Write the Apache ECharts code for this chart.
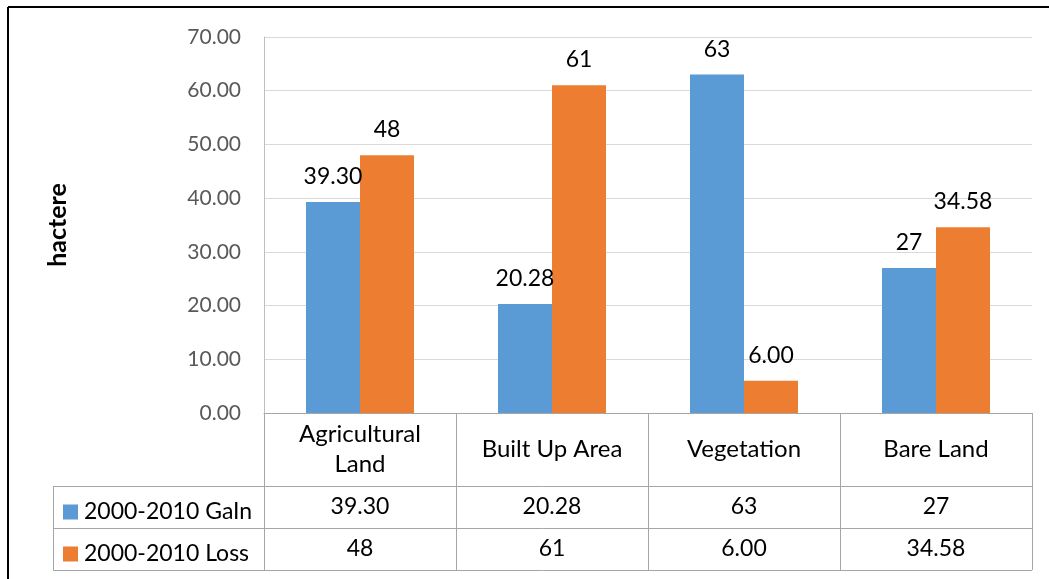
<!DOCTYPE html>
<html>
<head>
<meta charset="utf-8">
<script src="https://cdn.jsdelivr.net/npm/echarts@6/dist/echarts.min.js"></script>
<style>
  html, body { margin: 0; padding: 0; background: #fff; }
  #chart { width: 1049px; height: 579px; }
</style>
</head>
<body>
<div id="chart"></div>
<script>
// Land cover change, 2000-2010 (hectares)
const categories = ['Agricultural\nLand', 'Built Up Area', 'Vegetation', 'Bare Land'];
const seriesNames = ['2000-2010 GaIn', '2000-2010 Loss'];
const gainValues = [39.30, 20.28, 63, 27];
const lossValues = [48, 61, 6.00, 34.58];
// decimals shown for each value in labels and table
const gainDecimals = [2, 2, 0, 0];
const lossDecimals = [0, 0, 2, 2];
const yTicks = [0, 10, 20, 30, 40, 50, 60, 70];

const FONT = 'Lato, "Open Sans", sans-serif';
const W = 1049, H = 579;
const GRID = { left: 264, right: 17, top: 37, bottom: 166 };
const AXIS_Y = H - GRID.bottom;          // y of the category axis
const ROW1 = 73, ROW2 = 42, ROW3 = 42;    // table row heights
const TABLE_LEFT = 53;
const LINE = '#a6a6a6';

const fmt = (v, d) => v.toFixed(d);

const chart = echarts.init(document.getElementById('chart'), null, { renderer: 'canvas' });

const plotRight = W - GRID.right;
const yGain = AXIS_Y + ROW1;
const yLoss = yGain + ROW2;
const yEnd = yLoss + ROW3;

function hLine(y, x1, x2, color, width) {
  return { type: 'line', silent: true, shape: { x1, y1: y, x2, y2: y },
           style: { stroke: color, lineWidth: width } };
}
function vLine(x, y1, y2, color, width) {
  return { type: 'line', silent: true, shape: { x1: x, y1, x2: x, y2 },
           style: { stroke: color, lineWidth: width } };
}

const valueAxisRow = (offset, values, decimals) => ({
  type: 'category',
  data: categories,
  position: 'bottom',
  offset: offset,
  axisLine: { show: false },
  axisTick: { show: false },
  axisLabel: {
    interval: 0,
    margin: 21,
    verticalAlign: 'middle',
    fontFamily: FONT, fontSize: 23, color: '#000',
    formatter: (v, i) => fmt(values[i], decimals[i])
  }
});

const legendItem = (name, cy) => ({
  data: [name],
  left: 58,
  top: cy - 12,
  itemWidth: 15,
  itemHeight: 15,
  itemGap: 0,
  icon: 'rect',
  selectedMode: false,
  textStyle: { fontFamily: FONT, fontSize: 23, color: '#000', lineHeight: 24, padding: [0, 0, 0, 1] }
});

chart.setOption({
  animation: false,
  backgroundColor: '#fff',
  color: ['#5B9BD5', '#ED7D31'],
  grid: { left: GRID.left, right: GRID.right, top: GRID.top, bottom: GRID.bottom, containLabel: false },
  legend: [
    legendItem(seriesNames[0], yGain + ROW2 / 2),
    legendItem(seriesNames[1], yLoss + ROW3 / 2)
  ],
  xAxis: [
    {
      type: 'category',
      data: categories,
      axisLine: { show: true, lineStyle: { color: LINE, width: 1 } },
      axisTick: { show: true, length: ROW1 + ROW2 + ROW3, lineStyle: { color: LINE, width: 1 } },
      axisLabel: {
        interval: 0,
        margin: ROW1 / 2,
        verticalAlign: 'middle',
        lineHeight: 30,
        fontFamily: FONT, fontSize: 24, color: '#000'
      }
    },
    valueAxisRow(ROW1, gainValues, gainDecimals),
    valueAxisRow(ROW1 + ROW2, lossValues, lossDecimals)
  ],
  yAxis: {
    type: 'value',
    min: yTicks[0],
    max: yTicks[yTicks.length - 1],
    interval: yTicks[1] - yTicks[0],
    name: 'hactere',
    nameLocation: 'middle',
    nameRotate: 90,
    nameGap: 194,
    nameTextStyle: { fontFamily: FONT, fontSize: 25, fontWeight: 'bold', color: '#000' },
    axisLine: { show: true, lineStyle: { color: '#bfbfbf' } },
    axisTick: { show: false },
    splitLine: { lineStyle: { color: '#d9d9d9', width: 1 } },
    axisLabel: {
      margin: 23,
      fontFamily: FONT, fontSize: 21, color: '#595959',
      formatter: v => v.toFixed(2)
    }
  },
  series: [
    {
      name: seriesNames[0], type: 'bar', data: gainValues,
      barWidth: 54, barGap: '0%',
      label: {
        show: true, position: 'top', distance: 14,
        fontFamily: FONT, fontSize: 23, color: '#000',
        formatter: p => fmt(gainValues[p.dataIndex], gainDecimals[p.dataIndex])
      }
    },
    {
      name: seriesNames[1], type: 'bar', data: lossValues,
      barWidth: 54, barGap: '0%',
      label: {
        show: true, position: 'top', distance: 14,
        fontFamily: FONT, fontSize: 23, color: '#000',
        formatter: p => fmt(lossValues[p.dataIndex], lossDecimals[p.dataIndex])
      }
    }
  ],
  graphic: [
    // data table rules
    hLine(yGain + 0.5, TABLE_LEFT, plotRight, LINE, 1),
    hLine(yLoss + 0.5, TABLE_LEFT, plotRight, LINE, 1),
    hLine(yEnd + 0.5, TABLE_LEFT, plotRight, LINE, 1),
    vLine(TABLE_LEFT + 0.5, yGain, yEnd, LINE, 1),
    // frame
    hLine(7, 8, W, '#000', 2),
    vLine(8, 7, H, '#000', 2)
  ]
});
</script>
</body>
</html>
